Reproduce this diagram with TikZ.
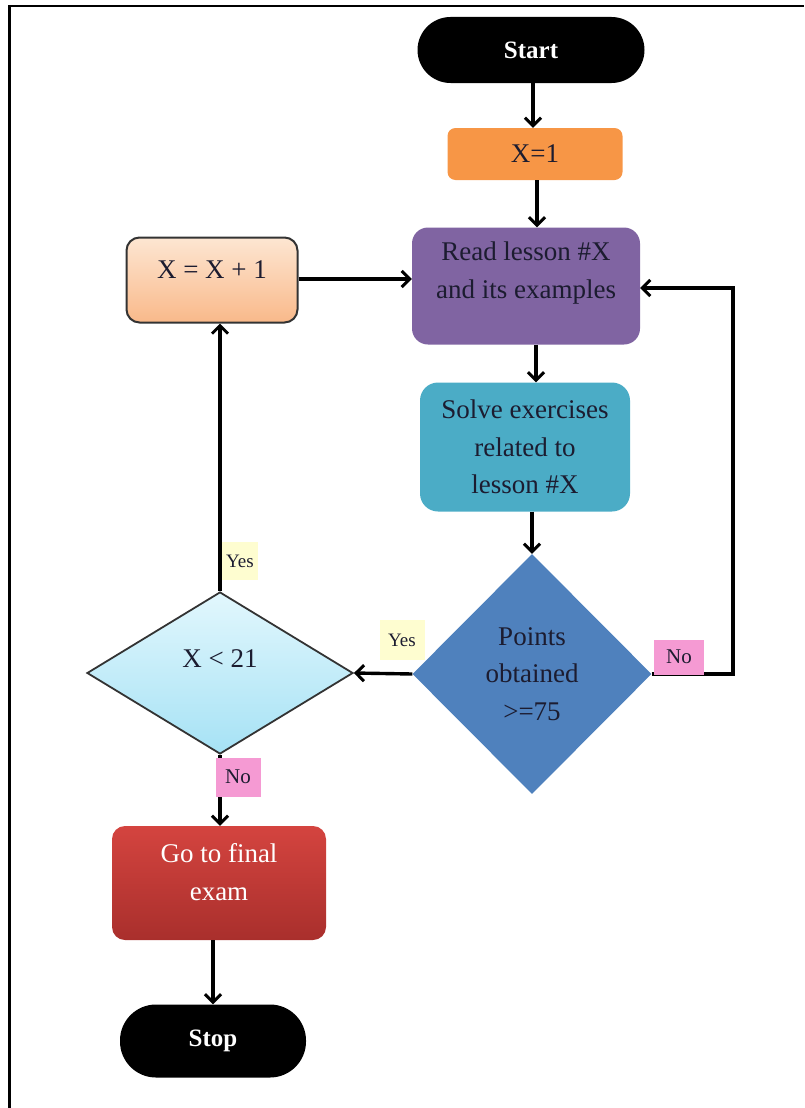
\documentclass[tikz,border=0pt]{standalone}
\usepackage{fontspec}
\setmainfont{Liberation Serif}
\usetikzlibrary{shapes.geometric,arrows.meta,calc}
\definecolor{txt}{HTML}{1C1C30}
\definecolor{orangebox}{HTML}{F79646}
\definecolor{purplebox}{HTML}{8064A2}
\definecolor{tealbox}{HTML}{4BACC6}
\definecolor{bluedia}{HTML}{4F81BD}
\definecolor{peachtop}{HTML}{FDE6D2}
\definecolor{peachbot}{HTML}{F9B98A}
\definecolor{skytop}{HTML}{E2F7FD}
\definecolor{skybot}{HTML}{A6E2F5}
\definecolor{redtop}{HTML}{D4443F}
\definecolor{redbot}{HTML}{A92F2C}
\definecolor{yeslab}{HTML}{FEFDD0}
\definecolor{nolab}{HTML}{F59AD3}
\begin{document}
\begin{tikzpicture}[x=1pt,y=-1pt,
  base/.style={inner sep=0pt, font=\fontsize{27}{37.5}\selectfont, align=center, text=txt},
  pill/.style={base, fill=black, rounded corners=33pt, text=white, font=\fontsize{25}{30}\selectfont\bfseries},
  boxed/.style={base, rounded corners=14pt},
  txtnode/.style={base, fill=none, draw=none},
  lab/.style={inner sep=0pt, font=\fontsize{19}{22}\selectfont, text=txt},
  arr/.style={line width=3.4pt, -{Straight Barb[length=8pt,width=16pt,line width=3pt]}},
]
\useasboundingbox (0,0) rectangle (804,1108);
% frame
\draw[line width=2.6pt] (9.5,1108) -- (9.5,6) -- (804,6);

% nodes
\node[pill, minimum width=227, minimum height=66] (start) at (531,50) {Start};
\node[boxed, fill=orangebox, rounded corners=8pt, minimum width=175, minimum height=52] (x1) at (535,154) {X=1};
\node[boxed, fill=purplebox, rounded corners=16pt, minimum width=228, minimum height=117] (read) at (526,286) {};
\node[txtnode] (readtxt) at (526,273) {Read lesson \#X\\and its examples};
\node[boxed, top color=peachtop, bottom color=peachbot, draw=black!80, line width=2pt, rounded corners=13pt, minimum width=171, minimum height=85] (xp1) at (212,280) {};
\node[txtnode] (xp1txt) at (212,270) {X = X + 1};
\node[boxed, fill=tealbox, rounded corners=18pt, minimum width=210, minimum height=129] (solve) at (525,447) {Solve exercises\\related to\\lesson \#X};
\node[base, shape=diamond, fill=bluedia, minimum width=239, minimum height=240] (points) at (532,674) {Points\\obtained\\>=75};
\node[base, shape=diamond, top color=skytop, bottom color=skybot, draw=black!80, line width=1.8pt, minimum width=266, minimum height=162] (xlt) at (220,673) {};
\node[txtnode] (xlttxt) at (220,659) {X < 21};
\node[boxed, top color=redtop, bottom color=redbot, rounded corners=13pt, minimum width=214, minimum height=114] (go) at (219,883) {};
\node[txtnode, text=white] (gotxt) at (219,872) {Go to final\\exam};
\node[pill, minimum width=186, minimum height=73, rounded corners=36pt] (stop) at (213,1041) {Stop};

% connectors
\draw[arr] (start.south -| 533,0) -- (533,0 |- x1.north);
\draw[arr] (x1.south -| 537,0) -- (537,0 |- read.north);
\draw[arr] (read.south -| 536,0) -- (536,0 |- solve.north);
\draw[arr] (solve.south -| 532,0) -- (points.north);
\draw[arr] (xp1.east |- 0,279) -- (read.west |- 0,279);
\coordinate (loopx) at (733,0);
\draw[arr] (points.east) -- (points.east -| loopx) |- (read.east |- 0,288);
\draw[arr] (points.west) -- (xlt.east);
\draw[arr] (xlt.north) -- (xlt.north |- xp1.south);
\draw[arr] (xlt.south) -- (xlt.south |- go.north);
\draw[arr] (go.south -| stop.north) -- (stop.north);

% labels
\node[lab, fill=yeslab, minimum width=45, minimum height=40] (yes1) at (402,640) {Yes};
\node[lab, fill=nolab, minimum width=50, minimum height=35, font=\fontsize{21}{24}\selectfont] (no1) at (679,657) {No};
\node[lab, fill=yeslab, minimum width=36, minimum height=38] (yes2) at (240,561) {Yes};
\node[lab, fill=nolab, minimum width=45, minimum height=39, font=\fontsize{21}{24}\selectfont] (no2) at (238,777) {No};
\end{tikzpicture}
\end{document}
